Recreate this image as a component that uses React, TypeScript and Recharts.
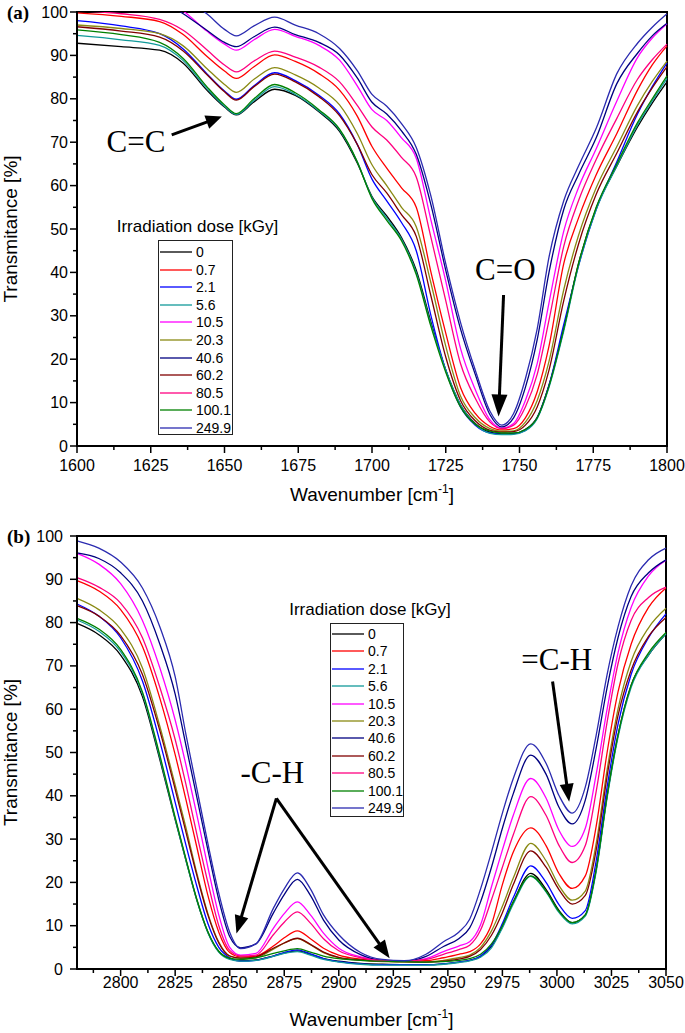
import React from 'react'
import { LineChart, Line, XAxis, YAxis, ReferenceArea, ReferenceLine, ReferenceDot, Legend } from 'recharts'

const SANS = '"Liberation Sans", Arial, Helvetica, sans-serif'
const SERIF = '"Liberation Serif", "Times New Roman", serif'

const doses = ['0', '0.7', '2.1', '5.6', '10.5', '20.3', '40.6', '60.2', '80.5', '100.1', '249.9']
const colors = ['#000000', '#ff0000', '#0000ff', '#119a9a', '#ff00ff', '#8a8a14', '#000080', '#800000', '#ff0080', '#008000', '#2b2bb0']

// panel (a): 1600-1800 cm-1
const waveA = [1600, 1615, 1628, 1636, 1644, 1650, 1654, 1660, 1667, 1674, 1682, 1689, 1695, 1700, 1705, 1710, 1715, 1720, 1725, 1730, 1735, 1740, 1744, 1748, 1752, 1756, 1760, 1765, 1770, 1776, 1783, 1790, 1795, 1800]
const a0 = [92.8, 92.0, 91.2, 88.2, 82.0, 78.1, 76.3, 79.3, 82.2, 80.8, 77.0, 72.5, 65.2, 57.5, 53.0, 48.0, 40.5, 28.5, 17.5, 9.5, 5.2, 3.2, 2.8, 2.9, 3.8, 6.6, 14.0, 27.0, 42.0, 54.8, 64.5, 73.5, 79.0, 83.9]
const a07 = [99.8, 99.0, 97.8, 94.8, 89.8, 86.4, 84.7, 87.4, 90.1, 88.6, 85.8, 82.0, 76.0, 69.0, 64.0, 59.5, 55.0, 40.0, 26.0, 13.5, 7.5, 4.5, 3.7, 4.0, 6.5, 12.5, 23.0, 42.0, 52.5, 62.5, 72.0, 82.0, 87.8, 92.2]
const a21 = [98.0, 96.8, 95.0, 91.5, 85.8, 81.8, 79.9, 83.0, 86.0, 84.2, 80.8, 76.5, 69.5, 61.5, 56.5, 51.5, 45.0, 30.0, 17.5, 9.0, 4.8, 3.0, 2.7, 2.8, 3.6, 6.5, 14.0, 28.0, 41.5, 54.5, 65.5, 76.5, 82.8, 88.3]
const a56 = [94.6, 93.6, 92.3, 88.8, 82.4, 78.3, 76.4, 79.6, 82.8, 81.0, 77.2, 72.8, 65.5, 57.3, 52.5, 47.7, 40.0, 28.0, 17.5, 9.5, 5.0, 2.9, 2.6, 2.7, 3.5, 6.3, 13.5, 26.5, 41.5, 54.5, 64.5, 74.0, 79.5, 84.7]
const a105 = [106, 105, 103, 100.2, 95.6, 92.6, 91.2, 93.6, 96.0, 94.4, 92.3, 88.9, 83.0, 77.5, 75.0, 71.0, 66.3, 52.0, 38.0, 22.5, 13.0, 6.0, 4.1, 5.2, 10.5, 19.0, 33.0, 49.5, 59.5, 68.5, 79.5, 89.5, 94.0, 97.3]
const a203 = [97.0, 96.2, 95.0, 92.2, 87.0, 83.3, 81.5, 84.5, 87.2, 85.5, 82.5, 78.6, 72.0, 64.8, 60.0, 55.0, 50.5, 37.5, 23.0, 11.5, 6.5, 4.0, 3.4, 3.5, 5.5, 10.5, 19.5, 36.0, 48.5, 59.5, 69.0, 78.5, 84.0, 88.7]
const a406 = [106, 105, 103, 99.6, 95.8, 93.0, 92.0, 94.3, 96.5, 94.8, 93.0, 90.1, 84.8, 79.2, 76.5, 72.6, 67.2, 55.5, 40.5, 27.0, 16.5, 7.2, 4.4, 6.5, 13.5, 24.5, 40.0, 54.5, 62.5, 71.0, 83.5, 90.5, 94.5, 97.4]
const a602 = [96.6, 95.6, 94.2, 91.0, 85.6, 81.6, 79.7, 82.8, 85.7, 83.9, 80.5, 76.1, 69.5, 62.5, 58.3, 53.3, 48.3, 34.5, 20.5, 10.5, 5.8, 3.6, 3.2, 3.3, 4.8, 9.0, 17.5, 33.5, 46.5, 58.0, 67.5, 77.0, 82.5, 87.4]
const a805 = [100.3, 99.6, 98.3, 95.8, 91.3, 87.8, 86.2, 88.7, 91.0, 89.6, 87.3, 83.9, 78.5, 73.5, 70.5, 66.5, 62.0, 48.0, 33.5, 19.0, 11.0, 5.5, 4.0, 4.8, 9.0, 16.5, 29.0, 46.0, 56.5, 66.0, 75.5, 84.5, 89.0, 92.6]
const a1001 = [95.9, 94.8, 93.0, 89.3, 82.8, 78.6, 76.6, 80.0, 83.3, 81.4, 77.5, 73.0, 65.5, 57.0, 52.0, 47.3, 39.5, 27.5, 17.0, 9.0, 5.0, 3.4, 3.0, 3.0, 3.8, 6.5, 13.8, 27.0, 42.0, 55.0, 65.0, 74.5, 80.0, 85.3]
const a2499 = [107, 106, 106, 103, 99.6, 96.0, 94.5, 96.8, 98.8, 97.0, 95.0, 91.6, 86.5, 81.0, 78.3, 74.3, 68.8, 57.5, 42.0, 28.5, 17.5, 8.0, 4.8, 7.5, 15.5, 27.0, 43.5, 56.5, 64.5, 73.2, 85.8, 92.8, 96.5, 99.6]
const seriesA = [a0, a07, a21, a56, a105, a203, a406, a602, a805, a1001, a2499]

// panel (b): 2780-3050 cm-1
const waveB = [2780, 2790, 2800, 2810, 2818, 2825, 2830, 2835, 2840, 2845, 2850, 2855, 2862, 2870, 2875, 2881, 2887, 2893, 2900, 2910, 2920, 2930, 2940, 2948, 2955, 2960, 2965, 2970, 2975, 2980, 2988, 2995, 3001, 3007, 3013, 3018, 3023, 3028, 3034, 3042, 3050]
const b0 = [79.8, 77.2, 72.5, 62.9, 48.3, 34.5, 25.0, 15.8, 8.5, 4.0, 2.4, 1.9, 2.1, 3.0, 3.7, 4.2, 3.4, 2.4, 1.8, 1.3, 1.1, 1.0, 1.0, 1.2, 1.6, 2.0, 2.9, 5.2, 9.8, 15.5, 22.1, 18.4, 13.5, 10.7, 12.5, 23.0, 40.0, 54.0, 65.5, 72.5, 77.4]
const b07 = [89.7, 87.3, 83.0, 74.5, 62.5, 49.5, 39.0, 28.0, 17.0, 8.5, 3.8, 2.8, 3.0, 5.3, 7.2, 8.8, 7.0, 4.8, 3.2, 2.3, 1.9, 1.8, 1.9, 2.6, 3.4, 4.0, 5.8, 10.3, 19.5, 27.0, 32.6, 28.5, 22.0, 18.6, 21.5, 33.0, 50.0, 64.0, 75.0, 83.5, 88.0]
const b21 = [84.3, 81.5, 76.5, 66.5, 52.5, 38.5, 28.5, 19.0, 10.5, 5.0, 2.6, 1.8, 2.0, 3.0, 3.8, 4.4, 3.5, 2.4, 1.7, 1.2, 1.0, 1.0, 1.0, 1.2, 1.6, 2.0, 3.0, 5.5, 10.5, 16.5, 23.8, 20.0, 14.8, 11.7, 13.5, 25.0, 42.0, 56.5, 68.0, 76.5, 82.0]
const b56 = [80.6, 78.0, 73.3, 63.6, 48.8, 34.7, 25.0, 15.8, 8.4, 3.9, 2.2, 1.8, 2.0, 2.9, 3.6, 4.0, 3.2, 2.2, 1.6, 1.1, 0.9, 0.9, 0.9, 1.1, 1.5, 1.9, 2.7, 4.9, 9.5, 15.0, 21.4, 17.8, 13.0, 10.4, 12.2, 22.5, 39.5, 53.5, 65.0, 72.5, 77.4]
const b105 = [96.0, 93.5, 89.0, 80.5, 69.5, 57.5, 47.0, 35.5, 23.5, 12.5, 5.0, 3.2, 3.6, 9.4, 12.8, 15.5, 12.5, 8.3, 4.8, 2.8, 2.0, 1.8, 2.4, 4.0, 5.3, 6.3, 10.2, 19.0, 27.5, 35.5, 44.0, 39.5, 32.0, 28.3, 32.5, 45.0, 60.0, 73.0, 83.5, 90.8, 94.4]
const b203 = [85.6, 83.0, 78.5, 69.5, 56.0, 42.5, 32.5, 22.0, 12.8, 6.2, 3.0, 2.5, 2.6, 4.6, 6.0, 7.0, 5.6, 3.8, 2.6, 2.0, 1.7, 1.6, 1.6, 2.0, 2.6, 3.2, 5.0, 8.8, 14.5, 21.0, 29.0, 25.0, 19.2, 15.9, 18.0, 29.0, 46.0, 60.0, 71.0, 78.8, 83.3]
const b406 = [96.1, 94.8, 91.5, 85.0, 75.0, 63.5, 51.5, 39.5, 27.5, 16.0, 7.5, 4.9, 5.8, 12.9, 17.2, 20.7, 17.0, 11.3, 6.7, 3.3, 2.0, 1.8, 2.9, 5.2, 7.0, 9.5, 15.5, 23.5, 32.5, 40.5, 49.4, 45.0, 37.3, 33.5, 39.0, 51.0, 65.0, 76.5, 86.0, 91.5, 94.5]
const b602 = [83.9, 81.5, 77.0, 68.0, 55.0, 41.5, 31.5, 21.5, 12.5, 6.0, 3.0, 2.5, 2.8, 4.8, 6.0, 7.1, 5.7, 3.9, 2.7, 2.1, 1.8, 1.7, 1.6, 1.8, 2.3, 2.9, 4.5, 7.8, 13.0, 19.5, 27.3, 23.5, 18.3, 15.0, 17.0, 27.5, 44.5, 58.5, 69.0, 76.8, 81.2]
const b805 = [90.4, 88.2, 84.5, 76.5, 65.0, 53.0, 42.5, 31.0, 20.0, 10.0, 4.3, 3.0, 3.2, 7.9, 10.8, 13.2, 10.6, 7.0, 4.2, 2.6, 1.9, 1.8, 2.2, 3.4, 4.5, 5.5, 9.0, 16.0, 23.5, 31.0, 39.8, 35.5, 28.5, 24.6, 28.5, 41.0, 57.0, 70.5, 80.5, 85.8, 88.2]
const b1001 = [81.0, 78.5, 73.8, 64.0, 49.3, 35.0, 25.3, 16.0, 8.6, 4.1, 2.5, 2.2, 2.6, 3.6, 4.2, 4.7, 3.9, 3.0, 2.4, 2.0, 1.8, 1.7, 1.6, 1.7, 2.0, 2.4, 3.4, 5.8, 10.0, 15.5, 21.5, 18.0, 13.3, 10.7, 12.5, 23.0, 40.0, 54.0, 65.5, 73.0, 77.7]
const b2499 = [98.9, 97.2, 94.0, 88.0, 79.0, 67.5, 54.0, 41.5, 29.0, 17.5, 8.5, 4.7, 5.8, 14.0, 18.5, 22.2, 18.5, 12.5, 7.9, 3.8, 2.2, 1.9, 3.4, 6.3, 8.5, 11.5, 18.5, 27.0, 36.0, 44.0, 52.0, 47.5, 40.0, 36.0, 42.0, 54.0, 68.0, 79.0, 88.5, 94.5, 97.2]
const seriesB = [b0, b07, b21, b56, b105, b203, b406, b602, b805, b1001, b2499]

const yTicks = [0, 5, 10, 15, 20, 25, 30, 35, 40, 45, 50, 55, 60, 65, 70, 75, 80, 85, 90, 95, 100]
const xTicksA = [1600, 1612.5, 1625, 1637.5, 1650, 1662.5, 1675, 1687.5, 1700, 1712.5, 1725, 1737.5, 1750, 1762.5, 1775, 1787.5, 1800]
const xTicksB = [2787.5, 2800, 2812.5, 2825, 2837.5, 2850, 2862.5, 2875, 2887.5, 2900, 2912.5, 2925, 2937.5, 2950, 2962.5, 2975, 2987.5, 3000, 3012.5, 3025, 3037.5, 3050]

function toRows(wave: number[], series: number[][]) {
  return wave.map((w, i) => {
    const row: Record<string, number> = { w }
    series.forEach((s, k) => { row['d' + k] = s[i] })
    return row
  })
}

const rowsA = toRows(waveA, seriesA)
const rowsB = toRows(waveB, seriesB)

const XTick = (props: any) => {
  const { x, y, payload, labelDy } = props
  const major = payload.value % 25 === 0
  return (
    <g>
      <line x1={x} y1={y} x2={x} y2={y + (major ? 7 : 4)} stroke="#000" strokeWidth={1.5} />
      {major && (
        <text x={x} y={y + labelDy} textAnchor="middle" fontSize={16} fontFamily={SANS} fill="#000">{payload.value}</text>
      )}
    </g>
  )
}

const YTick = (props: any) => {
  const { x, y, payload, gap } = props
  const major = payload.value % 10 === 0
  return (
    <g>
      <line x1={x} y1={y} x2={x - (major ? 7 : 4)} y2={y} stroke="#000" strokeWidth={1.5} />
      {major && (
        <text x={x - gap} y={y + 5.5} textAnchor="end" fontSize={16} fontFamily={SANS} fill="#000">{payload.value}</text>
      )}
    </g>
  )
}

const Arrow = (props: any) => {
  const { x1, y1, x2, y2, head = 18, half = 7 } = props
  const dx = x2 - x1
  const dy = y2 - y1
  const len = Math.hypot(dx, dy) || 1
  const ux = dx / len
  const uy = dy / len
  const bx = x2 - ux * head
  const by = y2 - uy * head
  return (
    <g>
      <line x1={x1} y1={y1} x2={bx + ux * 2} y2={by + uy * 2} stroke="#000" strokeWidth={3} />
      <polygon points={`${x2},${y2} ${bx - uy * half},${by + ux * half} ${bx + uy * half},${by - ux * half}`} fill="#000" />
    </g>
  )
}

const Note = (text: string) => (p: any) => (
  <text x={p.cx} y={p.cy} textAnchor="middle" fontSize={31} fontFamily={SERIF} fill="#000">{text}</text>
)

type LegendPos = { titleCx: number; titleBase: number; boxX: number; boxY: number; boxW: number; boxH: number; row0: number; step: number }

const makeLegend = (p: LegendPos) => () => (
  <div style={{ position: 'relative', fontFamily: SANS, color: '#000' }}>
    <div style={{ position: 'absolute', left: p.titleCx - 120, top: p.titleBase - 16, width: 240, textAlign: 'center', fontSize: 17, lineHeight: '20px', whiteSpace: 'nowrap' }}>
      Irradiation dose [kGy]
    </div>
    <div style={{ position: 'absolute', left: p.boxX, top: p.boxY, width: p.boxW, height: p.boxH, border: '1px solid #222', boxSizing: 'border-box', background: '#fff' }} />
    {doses.map((d, i) => {
      const cy = Math.round(p.row0 + i * p.step)
      return (
        <React.Fragment key={d}>
          <svg style={{ position: 'absolute', left: p.boxX + 2, top: cy - 2 }} width={32} height={4}>
            <line x1={0} y1={2} x2={32} y2={2} stroke={colors[i]} strokeWidth={1.3} />
          </svg>
          <div style={{ position: 'absolute', left: p.boxX + 38, top: cy - 9, fontSize: 14, lineHeight: '18px', whiteSpace: 'nowrap' }}>{d}</div>
        </React.Fragment>
      )
    })}
  </div>
)

type PanelProps = {
  top: number
  height: number
  right: number
  plotH: number
  rows: Record<string, number>[]
  domain: [number, number]
  xTicks: number[]
  labelDy: number
  yGap: number
  tag: string
  xTitleBase: number
  legend: LegendPos
  notes: React.ReactNode[]
}

function Panel(p: PanelProps) {
  const plotTop = 12
  const cy = plotTop + p.plotH / 2
  const cx = (77 + 685 - p.right) / 2
  const xAxisH = p.height - plotTop - p.plotH
  return (
    <div style={{ position: 'absolute', left: 0, top: p.top }}>
      <LineChart width={685} height={p.height} data={p.rows} margin={{ top: plotTop, right: p.right, bottom: 0, left: 0 }}>
        <XAxis
          dataKey="w"
          type="number"
          domain={p.domain}
          ticks={p.xTicks}
          interval={0}
          height={xAxisH}
          tickSize={0}
          tickMargin={0}
          tickLine={false}
          axisLine={{ stroke: '#000', strokeWidth: 2 }}
          tick={(t: any) => <XTick {...t} labelDy={p.labelDy} />}
          label={() => (
            <text x={cx} y={p.xTitleBase} textAnchor="middle" fontSize={19} fontFamily={SANS} fill="#000">
              Wavenumber [cm<tspan dy={-8} fontSize={12}>-1</tspan><tspan dy={8}>]</tspan>
            </text>
          )}
        />
        <YAxis
          type="number"
          domain={[0, 100]}
          allowDataOverflow
          ticks={yTicks}
          interval={0}
          width={77}
          tickSize={0}
          tickMargin={0}
          tickLine={false}
          axisLine={{ stroke: '#000', strokeWidth: 2 }}
          tick={(t: any) => <YTick {...t} gap={p.yGap} />}
          label={() => (
            <g>
              <text x={17} y={cy} transform={`rotate(-90 17 ${cy})`} textAnchor="middle" fontSize={19} fontFamily={SANS} fill="#000">
                Transmitance [%]
              </text>
              <text x={7} y={19} fontSize={19} fontWeight="bold" fontFamily={SERIF} fill="#000">{p.tag}</text>
            </g>
          )}
        />
        <ReferenceArea x1={p.domain[0]} x2={p.domain[1]} y1={0} y2={100} fill="none" stroke="#000" strokeWidth={2} ifOverflow="visible" />
        {doses.map((d, k) => (
          <Line
            key={d}
            dataKey={'d' + k}
            name={d}
            type="monotone"
            stroke={colors[k]}
            strokeWidth={1.3}
            dot={false}
            activeDot={false}
            isAnimationActive={false}
          />
        ))}
        {p.notes}
        <Legend
          layout="vertical"
          align="center"
          verticalAlign="middle"
          content={makeLegend(p.legend)}
          wrapperStyle={{ left: 0, top: 0, width: 0, height: 0, margin: 0 }}
        />
      </LineChart>
    </div>
  )
}

const notesA = [
  <ReferenceDot key="t1" x={1620} y={67.7} r={0} shape={Note('C=C')} ifOverflow="visible" />,
  <ReferenceLine key="a1" segment={[{ x: 1632.1, y: 71.7 }, { x: 1649.1, y: 75.9 }]} shape={(s: any) => <Arrow {...s} head={16} half={7} />} ifOverflow="visible" />,
  <ReferenceDot key="t2" x={1745.2} y={38.2} r={0} shape={Note('C=O')} ifOverflow="visible" />,
  <ReferenceLine key="a2" segment={[{ x: 1744.6, y: 34.8 }, { x: 1742.9, y: 6.8 }]} shape={(s: any) => <Arrow {...s} head={22} half={8} />} ifOverflow="visible" />,
]

const notesB = [
  <ReferenceDot key="t1" x={2869.5} y={43.0} r={0} shape={Note('-C-H')} ifOverflow="visible" />,
  <ReferenceLine key="a1" segment={[{ x: 2871.4, y: 39.4 }, { x: 2853.1, y: 8.2 }]} shape={(s: any) => <Arrow {...s} head={18} half={7} />} ifOverflow="visible" />,
  <ReferenceLine key="a2" segment={[{ x: 2871.4, y: 39.4 }, { x: 2923.3, y: 2.5 }]} shape={(s: any) => <Arrow {...s} head={18} half={7} />} ifOverflow="visible" />,
  <ReferenceDot key="t2" x={2999.9} y={69.1} r={0} shape={Note('=C-H')} ifOverflow="visible" />,
  <ReferenceLine key="a3" segment={[{ x: 2998.0, y: 66.4 }, { x: 3005.6, y: 38.6 }]} shape={(s: any) => <Arrow {...s} head={18} half={7} />} ifOverflow="visible" />,
]

export default function App() {
  return (
    <div style={{ position: 'absolute', left: 0, top: 0, width: 685, height: 1033, background: '#fff' }}>
      <Panel
        top={0}
        height={520}
        right={18}
        plotH={434}
        rows={rowsA}
        domain={[1600, 1800]}
        xTicks={xTicksA}
        labelDy={25}
        yGap={9}
        tag="(a)"
        xTitleBase={501}
        legend={{ titleCx: 197.5, titleBase: 233, boxX: 158, boxY: 240, boxW: 75, boxH: 195, row0: 252, step: 17.6 }}
        notes={notesA}
      />
      <Panel
        top={524}
        height={509}
        right={19}
        plotH={433}
        rows={rowsB}
        domain={[2780, 3050]}
        xTicks={xTicksB}
        labelDy={19}
        yGap={14}
        tag="(b)"
        xTitleBase={502}
        legend={{ titleCx: 370, titleBase: 92, boxX: 330, boxY: 99, boxW: 74, boxH: 194, row0: 110, step: 17.4 }}
        notes={notesB}
      />
    </div>
  )
}
